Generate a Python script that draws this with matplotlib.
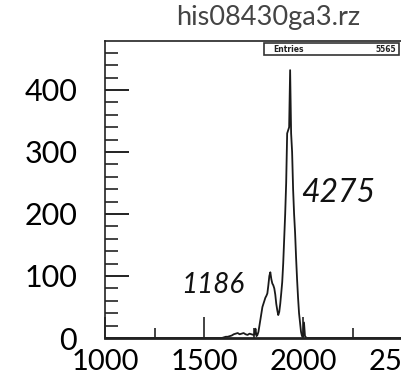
import numpy as np
import matplotlib
matplotlib.use("Agg")
import matplotlib.pyplot as plt
from matplotlib.patches import Rectangle

# ---- data (bin centres, counts) ----
bin_x = [1600, 1610, 1620, 1630, 1640, 1650, 1660, 1670, 1680, 1690, 1700, 1710,
         1720, 1730, 1740, 1750, 1755, 1760, 1765, 1770, 1775, 1780, 1785, 1790,
         1795, 1800, 1805, 1810, 1815, 1820, 1825, 1830, 1835, 1840, 1845, 1850,
         1855, 1860, 1865, 1870, 1875, 1880, 1885, 1890, 1895, 1900, 1905, 1910,
         1915, 1920, 1925, 1930, 1935, 1940, 1945, 1950, 1955, 1960, 1965, 1970,
         1975, 1980, 1985, 1990, 1995, 2000, 2005, 2010, 2015, 2020]
counts = [1, 2, 2, 3, 4, 6, 7, 8, 6, 7, 8, 6,
          5, 7, 6, 5, 6, 15, 3, 5, 10, 20, 30, 40,
          50, 55, 60, 65, 68, 72, 85, 100, 106, 95, 88, 85,
          80, 70, 55, 45, 37, 42, 55, 72, 90, 120, 160, 200,
          250, 330, 335, 340, 432, 330, 300, 240, 200, 170, 130, 95,
          65, 40, 25, 10, 3, 2, 25, 3, 1, 0]
x_full = [1000, 1590] + bin_x + [2030, 2600]
y_full = [0, 0] + counts + [0, 0]

title = "his08430ga3.rz"
stat_label = "Entries"
stat_value = "5565"
note_main = "4275"
note_side = "1186"

W, H = 401, 383
fig = plt.figure(figsize=(W / 100, H / 100), dpi=100)
fig.patch.set_facecolor("white")

# axes geometry in pixels
ax_left, ax_top, ax_bottom = 105, 41, 338
x0, x1 = 1000, 2600
px_per_unit = 0.198
ax_w = (x1 - x0) * px_per_unit
ax = fig.add_axes([ax_left / W, (H - ax_bottom) / H, ax_w / W, (ax_bottom - ax_top) / H])
ax.set_xlim(x0, x1)
ax.set_ylim(0, 479)

ax.plot(x_full, y_full, color="#1a1a1a", lw=1.3)

for s in ["top", "bottom", "left", "right"]:
    ax.spines[s].set_color("#222222")
ax.spines["bottom"].set_linewidth(2.0)
ax.spines["left"].set_linewidth(1.2)
ax.spines["top"].set_linewidth(1.2)

ax.set_xticks([1000, 1500, 2000, 2500])
ax.set_xticks([1250, 1750, 2250], minor=True)
ax.set_yticks([0, 100, 200, 300, 400])
ax.set_yticks(np.arange(0, 480, 20), minor=True)

ax.tick_params(axis="both", which="both", direction="in", color="#222222")
ax.tick_params(axis="y", which="major", length=17, width=1.4, pad=20)
ax.tick_params(axis="y", which="minor", length=9, width=1.2)
ax.tick_params(axis="x", which="major", length=15, width=1.2, pad=8)
ax.tick_params(axis="x", which="minor", length=7, width=1.2)
for lab in ax.get_yticklabels():
    lab.set_fontsize(22)
for lab in ax.get_xticklabels():
    lab.set_fontsize(21)
for lab in ax.get_xticklabels() + ax.get_yticklabels():
    lab.set_family(["Lato", "DejaVu Sans"])
    lab.set_fontweight("normal")
    lab.set_color("#000000")

# title
fig.text(268 / W, 1 - 18 / H, title, ha="center", va="center",
         fontsize=19.5, color="#444444", family=["Lato", "DejaVu Sans"],
         fontweight="normal")

# stats box
fig.patches.append(Rectangle((264 / W, 1 - 55 / H), (399 - 264) / W, 12 / H,
                             transform=fig.transFigure, fill=True, facecolor="white",
                             edgecolor="#333333", lw=1.2))
fig.text(273 / W, 1 - 49 / H, stat_label, ha="left", va="center",
         fontsize=5.5, fontweight="bold", color="#222222")
fig.text(396 / W, 1 - 49 / H, stat_value, ha="right", va="center",
         fontsize=5.5, fontweight="bold", color="#222222")

# handwritten notes
ax.text(1000 + (338 - ax_left) / px_per_unit, (ax_bottom - 193) / 0.62, note_main,
        ha="center", va="center", fontsize=23, style="italic", color="#111111",
        family=["Lato", "DejaVu Sans"], fontweight="normal")
ax.text(1000 + (213 - ax_left) / px_per_unit, (ax_bottom - 285) / 0.62, note_side,
        ha="center", va="center", fontsize=20, style="italic", color="#111111",
        family=["Lato", "DejaVu Sans"], fontweight="normal")

fig.savefig("out.png", dpi=100, facecolor="white")
